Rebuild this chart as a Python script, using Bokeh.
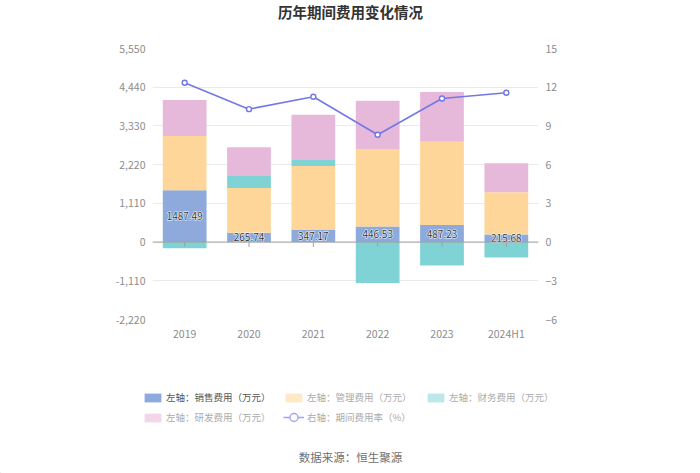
import numpy as np
from bokeh.plotting import figure
from bokeh.layouts import column
from bokeh.models import (Range1d, LinearAxis, FixedTicker, NumeralTickFormatter,
                          ColumnDataSource, Span, Legend, LegendItem, Label)
from bokeh.core.properties import value
from bokeh.embed import file_html
from bokeh.resources import INLINE

# ---- data ----
years = ["2019", "2020", "2021", "2022", "2023", "2024H1"]
sales = [1487.49, 265.74, 347.17, 446.53, 487.23, 215.68]
mgmt = [1554, 1288, 1836, 2223, 2391, 1215]
finance = [-180, 344, 172, -1173, -669, -440]
rnd = [1030, 821, 1296, 1382, 1422, 830]
rate = [12.35, 10.30, 11.26, 8.32, 11.13, 11.57]
left_ticks = [-2220, -1110, 0, 1110, 2220, 3330, 4440, 5550]
right_ticks = [-6, -3, 0, 3, 6, 9, 12, 15]
series_names = ["左轴：销售费用（万元）", "左轴：管理费用（万元）", "左轴：财务费用（万元）",
                "左轴：研发费用（万元）", "右轴：期间费用率（%）"]
title_text = "历年期间费用变化情况"
source_text = "数据来源：恒生聚源"

colors = ["#8EAADC", "#FFD699", "#7FD3D4", "#E6B9DA"]
legend_colors = ["#8EAADC", "#FFE8C6", "#BCE8EA", "#F4D6EA"]
line_color = "#7378E6"
FONT = "Noto Sans CJK SC"
W = 700


def blank(h):
    f = figure(width=W, height=h, x_range=Range1d(0, W), y_range=Range1d(0, h),
               x_axis_type=None, y_axis_type=None, min_border=0,
               min_border_left=0, min_border_right=0, min_border_top=0, min_border_bottom=0,
               output_backend="svg", toolbar_location=None, tools="", frame_align=False)
    f.outline_line_color = None
    f.grid.grid_line_color = None
    return f


# ---- title strip ----
top = blank(30)
top.add_layout(Label(x=350, y=19, text=title_text, text_align="center", text_baseline="middle",
                     text_font=FONT, text_font_size="14.5px", text_font_style="bold",
                     text_color="#333333"))

# ---- main chart ----
p = figure(x_range=years, y_range=Range1d(left_ticks[0], left_ticks[-1]),
           width=W, height=315, frame_width=386, frame_height=271,
           min_border_left=152, min_border_right=162, min_border_top=18, min_border_bottom=26,
           output_backend="svg", toolbar_location=None, tools="", frame_align=False)
p.outline_line_color = None
p.extra_y_ranges = {"rate": Range1d(right_ticks[0], right_ticks[-1])}

pos_base = np.zeros(len(years))
neg_base = np.zeros(len(years))
for vals, col in zip([sales, mgmt, finance, rnd], colors):
    v = np.array(vals, dtype=float)
    bottom = np.where(v >= 0, pos_base, neg_base + v)
    topv = np.where(v >= 0, pos_base + v, neg_base)
    pos_base = np.where(v >= 0, pos_base + v, pos_base)
    neg_base = np.where(v < 0, neg_base + v, neg_base)
    src = ColumnDataSource(dict(x=years, bottom=bottom, top=topv))
    p.vbar(x="x", bottom="bottom", top="top", width=0.68, source=src,
           fill_color=col, line_color=None)

p.add_layout(Span(location=0, dimension="width", line_color="#A0A0A0", line_width=1))
zeros = [0] * len(years)
p.segment(x0=years, x1=years, y0=zeros, y1=[-140] * len(years), line_color="#A0A0A0", line_width=1)

lab_src = ColumnDataSource(dict(x=years, y=np.array(sales) / 2, t=[f"{s:.2f}" for s in sales]))
p.text(x="x", y="y", text="t", source=lab_src, text_align="center", text_baseline="middle",
       text_font=value(FONT), text_font_size="10px", text_color="white",
       text_outline_color="white")
p.text(x="x", y="y", text="t", source=lab_src, text_align="center", text_baseline="middle",
       text_font=value(FONT), text_font_size="10px", text_color="#333333")

p.line(years, rate, y_range_name="rate", line_color=line_color, line_width=1.6)
p.scatter(years, rate, y_range_name="rate", size=5, marker="circle",
          fill_color="white", line_color=line_color, line_width=1.4)

p.yaxis[0].ticker = FixedTicker(ticks=left_ticks)
p.yaxis[0].formatter = NumeralTickFormatter(format="0,0")
raxis = LinearAxis(y_range_name="rate", ticker=FixedTicker(ticks=right_ticks))
p.add_layout(raxis, "right")
for ax in [p.yaxis[0], raxis, p.xaxis[0]]:
    ax.axis_line_color = None
    ax.major_tick_line_color = None
    ax.minor_tick_line_color = None
    ax.major_tick_out = 0
    ax.major_tick_in = 0
    ax.minor_tick_out = 0
    ax.major_label_text_color = "#8C8C8C"
    ax.major_label_text_font = FONT
    ax.major_label_text_font_size = "10.5px"
p.yaxis[0].major_label_standoff = 7
raxis.major_label_standoff = 7
p.xaxis[0].major_label_standoff = 6
p.xgrid.grid_line_color = None
p.ygrid.grid_line_color = "#EBEBEB"
p.ygrid.ticker = FixedTicker(ticks=left_ticks)

# ---- legend + source strip ----
BH = 128
bot = blank(BH)
off = -1000  # legend-only renderers drawn outside the visible range
dummies = [bot.vbar(x=[off], bottom=[0], top=[1], width=1, fill_color=c, line_color=None)
           for c in legend_colors]
dl = bot.line(x=[off, off + 1], y=[0, 0], line_color="#A3A6F0", line_width=1.6)
ds = bot.scatter(x=[off], y=[0], size=8, fill_color="white", line_color="#A3A6F0", line_width=1.4)

row1, row2 = 76, 56   # centre heights of the two legend rows (px from bottom of strip)
specs = [
    (series_names[0], [dummies[0]], 142, row1, "#555555", 11),
    (series_names[1], [dummies[1]], 283, row1, "#ABABAB", 11),
    (series_names[2], [dummies[2]], 425, row1, "#ABABAB", 11),
    (series_names[3], [dummies[3]], 142, row2, "#ABABAB", 11),
    (series_names[4], [dl, ds], 283, row2, "#ABABAB", 20),
]
for name, rs, x, yc, tc, gh in specs:
    lg = Legend(items=[LegendItem(label=name, renderers=rs)], location=(x, yc - max(gh, 14) / 2),
                glyph_width=21, glyph_height=gh, label_standoff=3, padding=0, margin=0,
                spacing=0, border_line_color=None, background_fill_alpha=0,
                label_text_font=FONT, label_text_font_size="9.5px", label_text_color=tc,
                label_height=14, label_text_baseline="middle")
    bot.add_layout(lg, "center")

bot.add_layout(Label(x=350, y=17, text=source_text, text_align="center", text_baseline="middle",
                     text_font=FONT, text_font_size="11.5px", text_color="#707070"))

layout = column(top, p, bot, spacing=0)
open("out.html", "w").write(file_html(layout, INLINE))
